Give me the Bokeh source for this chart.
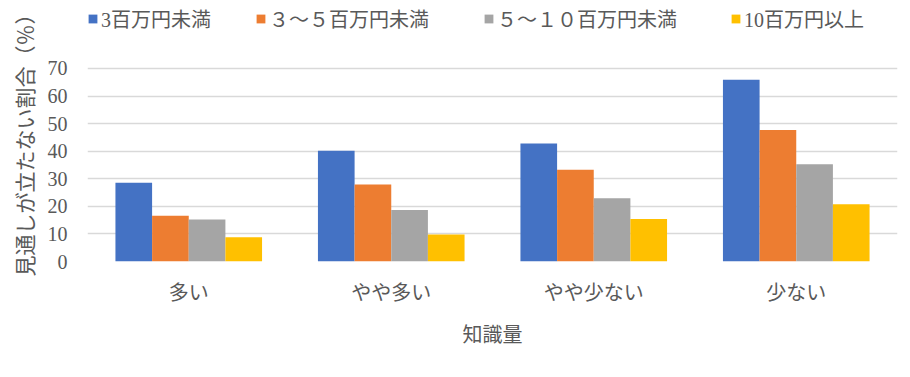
from bokeh.plotting import figure
from bokeh.models import FactorRange, Range1d, Legend, LegendItem, ColumnDataSource, FixedTicker, Title
from bokeh.transform import dodge
from bokeh.embed import file_html
from bokeh.resources import INLINE

categories = ["多い", "やや多い", "やや少ない", "少ない"]
series_names = ["3百万円未満", "３～５百万円未満", "５～１０百万円未満", "10百万円以上"]
under3 = [28.6, 40.2, 42.8, 65.9]
from3to5 = [16.6, 27.9, 33.3, 47.7]
from5to10 = [15.2, 18.7, 22.9, 35.3]
over10 = [8.8, 9.8, 15.4, 20.8]
y_ticks = [0, 10, 20, 30, 40, 50, 60, 70]
colors = ["#4472C4", "#ED7D31", "#A5A5A5", "#FFC000"]

source = ColumnDataSource(dict(cat=categories, s0=under3, s1=from3to5, s2=from5to10, s3=over10))

FONT = "'Liberation Serif', 'Noto Sans CJK JP'"
GRAY = "#595959"

# frame spans from the top of the canvas so the legend can sit inside it;
# the value axis tops out at 70 (gridlines), extra headroom holds the legend
p = figure(x_range=FactorRange(factors=categories, range_padding=0),
           y_range=Range1d(0, 94.66), width=910, height=377,
           output_backend="svg", toolbar_location=None,
           min_border_left=87, min_border_right=13, min_border_top=0, min_border_bottom=116)
p.outline_line_color = None
p.background_fill_color = "white"
p.border_fill_color = "white"

bw = 0.181
offsets = [-1.5 * bw, -0.5 * bw, 0.5 * bw, 1.5 * bw]
renderers = []
for i, (col, off) in enumerate(zip(["s0", "s1", "s2", "s3"], offsets)):
    r = p.vbar(x=dodge("cat", off, range=p.x_range), top=col, width=bw, bottom=0,
               source=source, fill_color=colors[i], line_color=None)
    renderers.append(r)

legend_x = [0, 168, 396, 643]
for name, r, lx in zip(series_names, renderers, legend_x):
    leg = Legend(items=[LegendItem(label=name, renderers=[r])], location=(lx, 228),
                 orientation="horizontal", padding=0, margin=0, spacing=0,
                 glyph_width=11, glyph_height=11, label_standoff=3,
                 border_line_color=None, background_fill_alpha=0,
                 label_text_font=FONT, label_text_font_size="20px", label_text_color=GRAY)
    p.add_layout(leg)

p.xgrid.grid_line_color = None
p.ygrid.grid_line_color = "#D9D9D9"
p.ygrid.grid_line_width = 1.3
p.yaxis.ticker = FixedTicker(ticks=y_ticks)

p.yaxis.axis_line_color = None
p.yaxis.major_tick_line_color = None
p.yaxis.minor_tick_line_color = None
p.yaxis.major_tick_out = 0
p.yaxis.major_label_standoff = 20
p.yaxis.major_label_text_font = FONT
p.yaxis.major_label_text_font_size = "20px"
p.yaxis.major_label_text_color = GRAY

ytitle = Title(text="見通しが立たない割合（％）", align="right", offset=3, standoff=14,
               text_font=FONT, text_font_size="21px", text_font_style="normal",
               text_color=GRAY)
p.add_layout(ytitle, "left")

p.xaxis.axis_line_color = None
p.xaxis.major_tick_line_color = None
p.xaxis.minor_tick_line_color = None
p.xaxis.major_tick_out = 0
p.xaxis.major_label_standoff = 20
p.xaxis.major_label_text_font = FONT
p.xaxis.major_label_text_font_size = "20px"
p.xaxis.major_label_text_color = GRAY
p.xaxis.axis_label = "知識量"
p.xaxis.axis_label_text_font = FONT
p.xaxis.axis_label_text_font_size = "20px"
p.xaxis.axis_label_text_font_style = "normal"
p.xaxis.axis_label_text_color = GRAY
p.xaxis.axis_label_standoff = 17

open("out.html", "w").write(file_html(p, INLINE))
